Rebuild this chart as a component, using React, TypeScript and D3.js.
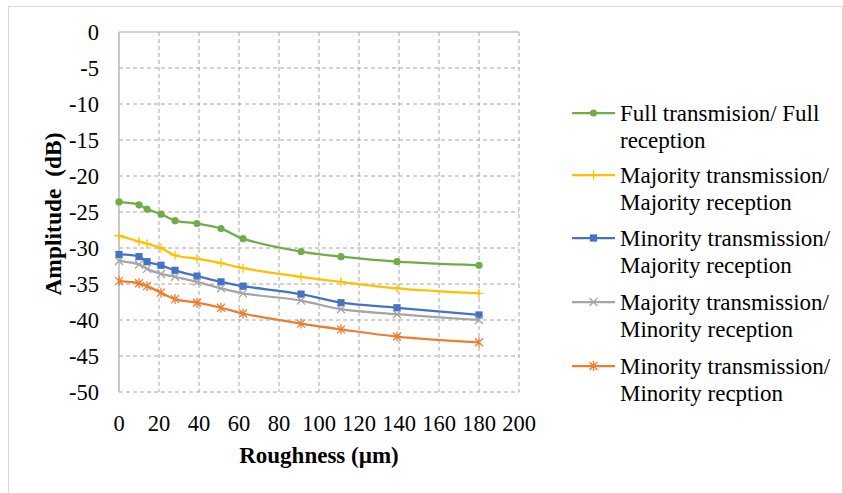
import React from 'react';
import * as d3 from 'd3';

const roughness = [0, 10, 14, 21, 28, 39, 51, 62, 91, 111, 139, 180];
const fullFull = [-23.6, -24.0, -24.6, -25.3, -26.2, -26.6, -27.3, -28.7, -30.5, -31.2, -31.9, -32.4];
const majMaj = [-28.3, -29.1, -29.4, -30.0, -31.0, -31.5, -32.1, -32.8, -34.0, -34.7, -35.6, -36.3];
const minMaj = [-30.9, -31.2, -31.9, -32.4, -33.1, -33.9, -34.7, -35.3, -36.4, -37.6, -38.3, -39.3];
const majMin = [-31.8, -32.3, -32.9, -33.6, -34.0, -34.7, -35.6, -36.3, -37.3, -38.5, -39.2, -40.0];
const minMin = [-34.6, -34.9, -35.3, -36.2, -37.1, -37.6, -38.3, -39.1, -40.5, -41.3, -42.3, -43.1];

const xTicks = [0, 20, 40, 60, 80, 100, 120, 140, 160, 180, 200];
const yTicks = [0, -5, -10, -15, -20, -25, -30, -35, -40, -45, -50];

type Marker = 'circle' | 'plus' | 'square' | 'cross' | 'star';

const series: { name: string[]; values: number[]; color: string; marker: Marker }[] = [
  { name: ['Full transmision/ Full', 'reception'], values: fullFull, color: '#70ad47', marker: 'circle' },
  { name: ['Majority transmission/', 'Majority reception'], values: majMaj, color: '#ffc000', marker: 'plus' },
  { name: ['Minority transmission/', 'Majority reception'], values: minMaj, color: '#4472c4', marker: 'square' },
  { name: ['Majority transmission/', 'Minority reception'], values: majMin, color: '#a5a5a5', marker: 'cross' },
  { name: ['Minority transmission/', 'Minority recption'], values: minMin, color: '#ed7d31', marker: 'star' },
];

const W = 843;
const H = 493;
const plot = { left: 119, right: 519, top: 32, bottom: 392 };
const FONT = 'Liberation Serif, Times New Roman, serif';
const FS = 22.5;

function MarkerShape({ type, x, y, color }: { type: Marker; x: number; y: number; color: string }) {
  const s = 4.5;
  switch (type) {
    case 'circle':
      return <circle cx={x} cy={y} r={3.6} fill={color} />;
    case 'square':
      return <rect x={x - 3.6} y={y - 3.6} width={7.2} height={7.2} fill={color} />;
    case 'plus':
      return (
        <path d={`M${x - s},${y}H${x + s}M${x},${y - s}V${y + s}`} stroke={color} strokeWidth={1.3} />
      );
    case 'cross':
      return (
        <path
          d={`M${x - 4},${y - 4}L${x + 4},${y + 4}M${x - 4},${y + 4}L${x + 4},${y - 4}`}
          stroke={color}
          strokeWidth={1.3}
        />
      );
    case 'star':
      return (
        <path
          d={`M${x - 4},${y - 4}L${x + 4},${y + 4}M${x - 4},${y + 4}L${x + 4},${y - 4}M${x},${y - 5}V${y + 5}`}
          stroke={color}
          strokeWidth={1.3}
        />
      );
  }
}

export default function App() {
  const x = d3.scaleLinear().domain([0, 200]).range([plot.left, plot.right]);
  const y = d3.scaleLinear().domain([-50, 0]).range([plot.bottom, plot.top]);

  const line = d3
    .line<number>()
    .x((d, i) => x(roughness[i]))
    .y((d) => y(d))
    .curve(d3.curveCatmullRom.alpha(0.5));

  const legendX = 572;
  const legendY = [113, 175, 238, 302, 366];

  return (
    <svg
      width={W}
      height={H}
      fontFamily={FONT}
      style={{ position: 'absolute', left: 0, top: 0, background: '#fff' }}
    >
      {/* chart border */}
      <rect x={8.5} y={6.5} width={834} height={500} fill="none" stroke="#d9d9d9" strokeWidth={1} />

      {/* gridlines */}
      <g stroke="#a6a6a6" strokeWidth={1} strokeDasharray="4,3">
        {yTicks
          .filter((t) => t !== 0)
          .map((t) => (
            <line key={'gy' + t} x1={plot.left} x2={plot.right} y1={y(t)} y2={y(t)} />
          ))}
        {xTicks
          .filter((t) => t !== 0)
          .map((t) => (
            <line key={'gx' + t} x1={x(t)} x2={x(t)} y1={plot.top} y2={plot.bottom} />
          ))}
      </g>

      {/* axis lines: x axis crosses at 0 (top) */}
      <g stroke="#a6a6a6" strokeWidth={1.2}>
        <line x1={plot.left} x2={plot.right} y1={plot.top} y2={plot.top} />
        <line x1={plot.left} x2={plot.left} y1={plot.top} y2={plot.bottom} />
      </g>

      {/* y tick labels */}
      <g fontSize={FS} textAnchor="end" fill="#000">
        {yTicks.map((t) => (
          <text key={'ty' + t} x={plot.left - 20} y={y(t)} dy="0.35em">
            {t}
          </text>
        ))}
      </g>

      {/* x tick labels */}
      <g fontSize={FS} textAnchor="middle" fill="#000">
        {xTicks.map((t) => (
          <text key={'tx' + t} x={x(t)} y={423} dy="0.35em">
            {t}
          </text>
        ))}
      </g>

      {/* axis titles */}
      <text
        x={(plot.left + plot.right) / 2}
        y={455}
        dy="0.35em"
        textAnchor="middle"
        fontSize={23}
        fontWeight="bold"
      >
        Roughness (µm)
      </text>
      <text
        transform={`translate(53,214) rotate(-90)`}
        dy="0.35em"
        textAnchor="middle"
        fontSize={23.5}
        fontWeight="bold"
        style={{ whiteSpace: 'pre' }}
      >
        Amplitude  (dB)
      </text>

      {/* series */}
      {series.map((s) => (
        <g key={s.name.join(' ')}>
          <path d={line(s.values) || ''} fill="none" stroke={s.color} strokeWidth={2.25} />
          {s.values.map((v, i) => (
            <MarkerShape key={i} type={s.marker} x={x(roughness[i])} y={y(v)} color={s.color} />
          ))}
        </g>
      ))}

      {/* legend */}
      {series.map((s, k) => (
        <g key={'lg' + k}>
          <line x1={legendX} x2={legendX + 43} y1={legendY[k]} y2={legendY[k]} stroke={s.color} strokeWidth={2.25} />
          <MarkerShape type={s.marker} x={legendX + 21.5} y={legendY[k]} color={s.color} />
          {s.name.map((ln, j) => (
            <text key={j} x={legendX + 48} y={legendY[k] + j * 26.5} dy="0.35em" fontSize={23} fill="#000">
              {ln}
            </text>
          ))}
        </g>
      ))}
    </svg>
  );
}
